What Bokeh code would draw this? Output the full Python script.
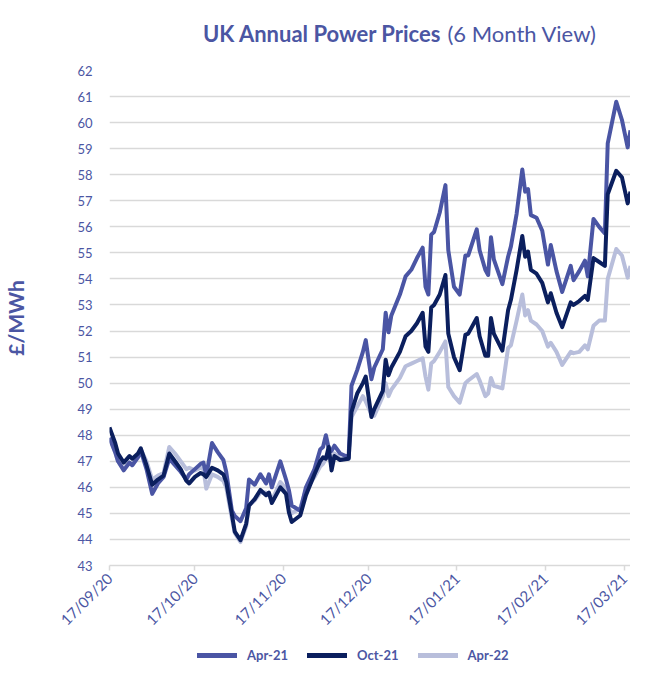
import math
import pandas as pd
from bokeh.plotting import figure
from bokeh.layouts import column
from bokeh.models import (Range1d, FixedTicker, DatetimeTickFormatter, Legend,
                          LegendItem, Label)
from bokeh.embed import file_html
from bokeh.resources import INLINE

# ---------------- data ----------------
dates = [
    "2020-09-17", "2020-09-19", "2020-09-20", "2020-09-22", "2020-09-24", "2020-09-25",
    "2020-09-27", "2020-09-28", "2020-09-30", "2020-10-02", "2020-10-04", "2020-10-06",
    "2020-10-08", "2020-10-10", "2020-10-12", "2020-10-14", "2020-10-15", "2020-10-17",
    "2020-10-19", "2020-10-20", "2020-10-21", "2020-10-23", "2020-10-25", "2020-10-27",
    "2020-10-28", "2020-10-30", "2020-10-31", "2020-11-02", "2020-11-04", "2020-11-05",
    "2020-11-07", "2020-11-09", "2020-11-11", "2020-11-12", "2020-11-13", "2020-11-16",
    "2020-11-18", "2020-11-19", "2020-11-20", "2020-11-23", "2020-11-25", "2020-11-28",
    "2020-11-30", "2020-12-01", "2020-12-02", "2020-12-03", "2020-12-04", "2020-12-05",
    "2020-12-07", "2020-12-10", "2020-12-11", "2020-12-13", "2020-12-15", "2020-12-16",
    "2020-12-18", "2020-12-19", "2020-12-22", "2020-12-23", "2020-12-24", "2020-12-25",
    "2020-12-28", "2020-12-30", "2021-01-01", "2021-01-03", "2021-01-05", "2021-01-06",
    "2021-01-07", "2021-01-08", "2021-01-09", "2021-01-11", "2021-01-13", "2021-01-14",
    "2021-01-16", "2021-01-18", "2021-01-20", "2021-01-21", "2021-01-24", "2021-01-25",
    "2021-01-27", "2021-01-28", "2021-01-29", "2021-01-30", "2021-02-02", "2021-02-04",
    "2021-02-05", "2021-02-07", "2021-02-09", "2021-02-10", "2021-02-11", "2021-02-12",
    "2021-02-14", "2021-02-16", "2021-02-18", "2021-02-19", "2021-02-21", "2021-02-23",
    "2021-02-26", "2021-02-27", "2021-03-01", "2021-03-03", "2021-03-04", "2021-03-06",
    "2021-03-08", "2021-03-10", "2021-03-11", "2021-03-14", "2021-03-16", "2021-03-18",
    "2021-03-19",
]

apr21 = [
    47.9, 47.35, 47.0, 46.65, 46.95, 46.85, 47.15, 47.4, 46.7, 45.75, 46.15, 46.4,
    47.1, 46.85, 46.6, 46.3, 46.5, 46.7, 46.9, 46.95, 46.45, 47.7, 47.35, 47.05,
    46.6, 45.1, 44.9, 44.7, 45.2, 46.3, 46.1, 46.5, 46.15, 46.5, 46.0, 47.0,
    46.3, 45.9, 45.3, 45.1, 46.0, 46.7, 47.45, 47.55, 48.0, 47.5, 47.4, 47.6,
    47.3, 47.15, 49.9, 50.5, 51.2, 51.65, 50.15, 50.6, 51.3, 52.7, 51.95, 52.6,
    53.4, 54.1, 54.35, 54.8, 55.2, 53.7, 53.4, 55.7, 55.8, 56.55, 57.6, 55.1,
    53.7, 53.4, 54.9, 54.9, 55.9, 55.1, 54.35, 54.15, 55.6, 54.75, 53.8, 54.85,
    55.25, 56.5, 58.2, 57.35, 57.45, 56.45, 56.35, 55.85, 54.55, 55.3, 54.3, 53.5,
    54.5, 53.95, 54.3, 54.7, 54.1, 56.3, 56.0, 55.75, 59.2, 60.8, 60.1, 59.05,
    59.7,
]

oct21 = [
    48.3, 47.7, 47.3, 46.95, 47.2, 47.1, 47.3, 47.5, 46.85, 46.1, 46.3, 46.45,
    47.3, 47.0, 46.7, 46.25, 46.15, 46.4, 46.55, 46.5, 46.4, 46.75, 46.65, 46.5,
    46.2, 44.95, 44.3, 43.97, 44.6, 45.3, 45.55, 45.9, 45.7, 45.8, 45.4, 46.0,
    45.75, 45.05, 44.67, 44.92, 45.7, 46.5, 47.0, 47.15, 47.1, 47.55, 46.65, 47.2,
    47.05, 47.1, 48.9, 49.6, 50.0, 50.25, 48.7, 49.0, 49.7, 50.9, 50.3, 50.6,
    51.2, 51.8, 52.0, 52.3, 52.7, 51.4, 51.2, 52.9, 53.0, 53.4, 54.15, 51.9,
    51.0, 50.5, 51.85, 51.9, 52.5, 51.8, 51.05, 51.05, 52.5, 51.9, 51.25, 52.8,
    53.2, 54.35, 55.65, 54.85, 55.05, 54.35, 54.2, 53.85, 53.1, 53.45, 52.7, 52.15,
    53.1, 53.0, 53.15, 53.35, 53.2, 54.8, 54.65, 54.5, 57.25, 58.15, 57.9, 56.9,
    57.35,
]

apr22 = [
    47.9, 47.35, 47.0, 46.7, 46.95, 46.85, 47.2, 47.45, 47.0, 46.3, 46.45, 46.55,
    47.55, 47.3, 47.0, 46.7, 46.75, 46.65, 46.75, 46.7, 45.95, 46.5, 46.4, 46.25,
    46.0, 44.8, 44.25, 43.9, 44.5, 45.3, 45.5, 45.8, 45.8, 45.7, 45.5, 46.2,
    45.95, 45.2, 45.0, 45.2, 45.9, 46.4, 46.8, 46.9, 47.1, 47.3, 46.85, 47.3,
    47.1, 47.1, 48.7, 49.1, 49.5, 49.3, 48.8, 48.75, 49.5, 50.0, 49.5, 49.75,
    50.2, 50.65, 50.75, 50.85, 50.95, 50.25, 49.75, 50.75, 50.85, 51.2, 51.6, 49.85,
    49.5, 49.25, 50.0, 50.1, 50.35, 50.1, 49.5, 49.6, 50.2, 49.9, 49.8, 51.35,
    51.45, 52.4, 53.4, 52.6, 52.8, 52.4, 52.25, 52.0, 51.4, 51.55, 51.2, 50.7,
    51.2, 51.15, 51.2, 51.45, 51.3, 52.2, 52.4, 52.4, 54.0, 55.15, 54.9, 54.05,
    54.5,
]

series_names = ["Apr-21", "Oct-21", "Apr-22"]
x_tick_dates = ["2020-09-17", "2020-10-17", "2020-11-17", "2020-12-17",
                "2021-01-17", "2021-02-17", "2021-03-17"]
y_ticks = list(range(43, 63))
x_start, x_end = "2020-09-17", "2021-03-19"
title_bold = "UK Annual Power Prices"
title_regular = "(6 Month View)"

# ---------------- styling ----------------
TXT = "#4b56a3"
COLORS = ["#4a55a4", "#0b1f5e", "#b8bedb"]
GRID = "#d9d9d9"
FONT = "Lato"
LW = 4
W = 630

# ---- title strip (its frame is aligned with the chart frame) ----
tf = figure(width=W, height=46, x_range=Range1d(0, 1), y_range=Range1d(0, 1),
            output_backend="svg", toolbar_location=None,
            min_border_left=0, min_border_right=0, min_border_top=0,
            min_border_bottom=0)
tf.axis.visible = False
tf.grid.grid_line_color = None
tf.outline_line_color = None
tf.add_layout(Label(x=332, y=13, x_units="screen", y_units="screen",
                    text=title_bold, text_font=FONT, text_font_style="bold",
                    text_font_size="22px", text_color=TXT,
                    text_align="right", text_baseline="alphabetic"))
tf.add_layout(Label(x=338, y=13, x_units="screen", y_units="screen",
                    text=title_regular, text_font=FONT, text_font_style="normal",
                    text_font_size="22px", text_color=TXT,
                    text_align="left", text_baseline="alphabetic"))

# ---- main chart ----
dts = pd.to_datetime(dates)
p = figure(width=W, height=594, x_axis_type="datetime",
           x_range=Range1d(pd.Timestamp(x_start), pd.Timestamp(x_end)),
           y_range=Range1d(43, 62),
           output_backend="svg", toolbar_location=None,
           min_border_left=105, min_border_right=0,
           min_border_top=24, min_border_bottom=75)
p.outline_line_color = None
p.background_fill_color = "white"
p.border_fill_color = "white"

p.line(dts, apr22, line_color=COLORS[2], line_width=LW, line_join="round")
p.line(dts, apr21, line_color=COLORS[0], line_width=LW, line_join="round")
p.line(dts, oct21, line_color=COLORS[1], line_width=LW, line_join="round")

p.xgrid.grid_line_color = None
p.ygrid.grid_line_color = GRID
p.ygrid.grid_line_width = 1.5
p.yaxis.ticker = FixedTicker(ticks=y_ticks)
p.yaxis.axis_line_color = None
p.yaxis.major_tick_line_color = None
p.yaxis.minor_tick_line_color = None
p.yaxis.major_label_text_color = TXT
p.yaxis.major_label_text_font = FONT
p.yaxis.major_label_text_font_size = "13px"
p.yaxis.major_label_standoff = 11
p.yaxis.axis_label = "£/MWh"
p.yaxis.axis_label_text_font = FONT
p.yaxis.axis_label_text_font_style = "bold"
p.yaxis.axis_label_text_font_size = "21px"
p.yaxis.axis_label_text_color = TXT
p.yaxis.axis_label_standoff = 46

p.xaxis.ticker = FixedTicker(ticks=[pd.Timestamp(d).value // 10**6 for d in x_tick_dates])
p.xaxis.formatter = DatetimeTickFormatter(days="%d/%m/%y", months="%d/%m/%y")
p.xaxis.major_label_orientation = math.pi / 4
p.xaxis.axis_line_color = GRID
p.xaxis.axis_line_width = 1.5
p.xaxis.major_tick_line_color = GRID
p.xaxis.major_tick_line_width = 1.5
p.xaxis.major_tick_out = 5
p.xaxis.major_tick_in = 0
p.xaxis.minor_tick_line_color = None
p.xaxis.major_label_text_color = TXT
p.xaxis.major_label_text_font = FONT
p.xaxis.major_label_text_font_size = "15px"

# ---- legend strip ----
lf = figure(width=W, height=26, x_range=Range1d(0, 1), y_range=Range1d(0, 1),
            output_backend="svg", toolbar_location=None,
            min_border_left=0, min_border_right=0, min_border_top=4,
            min_border_bottom=0)
lf.axis.visible = False
lf.grid.grid_line_color = None
lf.outline_line_color = None
items = []
for name, col in zip(series_names, COLORS):
    # sample glyph kept outside the visible range; only its legend swatch shows
    rr = lf.line(x=[-2, -1], y=[-2, -2], line_color=col, line_width=5,
                 line_cap="round")
    items.append(LegendItem(label=name, renderers=[rr]))
legend = Legend(items=items, orientation="horizontal", location=(88, 3),
                glyph_width=40, glyph_height=14, label_standoff=10, spacing=19,
                padding=0, margin=0, border_line_color=None,
                background_fill_alpha=0,
                label_text_font=FONT, label_text_font_style="bold",
                label_text_font_size="13px", label_text_color=TXT)
lf.add_layout(legend, "center")

page = column(tf, p, lf, spacing=0)
open("out.html", "w").write(file_html(page, INLINE))
